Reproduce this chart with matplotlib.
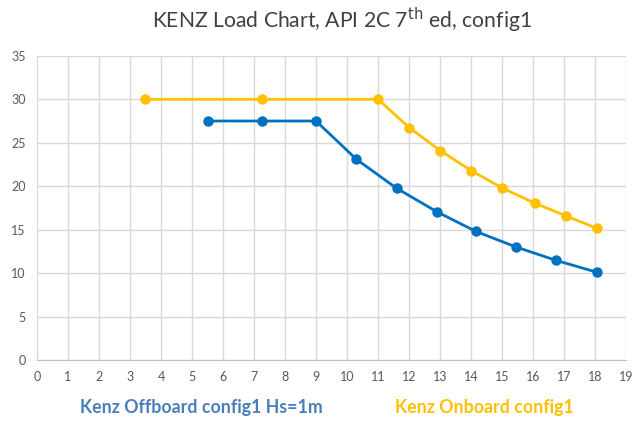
import matplotlib

matplotlib.use("Agg")
import matplotlib.pyplot as plt

# data
offboard_x = [5.5, 7.25, 9.0, 10.3, 11.6, 12.9, 14.15, 15.45, 16.75, 18.05]
offboard_y = [27.5, 27.5, 27.5, 23.1, 19.75, 17.05, 14.8, 13.0, 11.45, 10.1]
onboard_x = [3.5, 7.25, 11.0, 12.0, 13.0, 14.0, 15.0, 16.05, 17.05, 18.05]
onboard_y = [30.0, 30.0, 30.0, 26.75, 24.1, 21.8, 19.8, 18.05, 16.6, 15.15]
offboard_label = "Kenz Offboard config1 Hs=1m"
onboard_label = "Kenz Onboard config1"

blue = "#0070C0"
orange = "#FFC000"

plt.rcParams["font.family"] = ["Lato", "DejaVu Sans"]

fig = plt.figure(figsize=(6.37, 4.23), dpi=100)
ax = fig.add_axes([0.058, 0.149, 0.925, 0.719])

ax.plot(offboard_x, offboard_y, color=blue, lw=2, marker="o", ms=6.5, zorder=3)
ax.plot(onboard_x, onboard_y, color=orange, lw=2, marker="o", ms=6.5, zorder=3)

ax.set_xlim(0, 19)
ax.set_ylim(0, 35)
ax.set_xticks(range(0, 20))
ax.set_yticks(range(0, 36, 5))
ax.grid(True, color="#d9d9d9", lw=1)
ax.set_axisbelow(True)
for s in ["top", "right", "left"]:
    ax.spines[s].set_visible(False)
ax.spines["bottom"].set_color("#bfbfbf")
ax.tick_params(length=0, labelsize=9, labelcolor="#595959", pad=8)

fig.text(0.537, 0.952, "KENZ Load Chart, API 2C 7$^{\\mathrm{th}}$ ed, config1",
         ha="center", va="center", fontsize=15.2, color="#404040")

fig.text(0.316, 0.036, offboard_label, ha="center", va="center",
         fontsize=12.8, fontweight="bold", color="#4a7ebb")
fig.text(0.76, 0.036, onboard_label, ha="center", va="center",
         fontsize=12.8, fontweight="bold", color=orange)

fig.savefig("out.png", dpi=100)
